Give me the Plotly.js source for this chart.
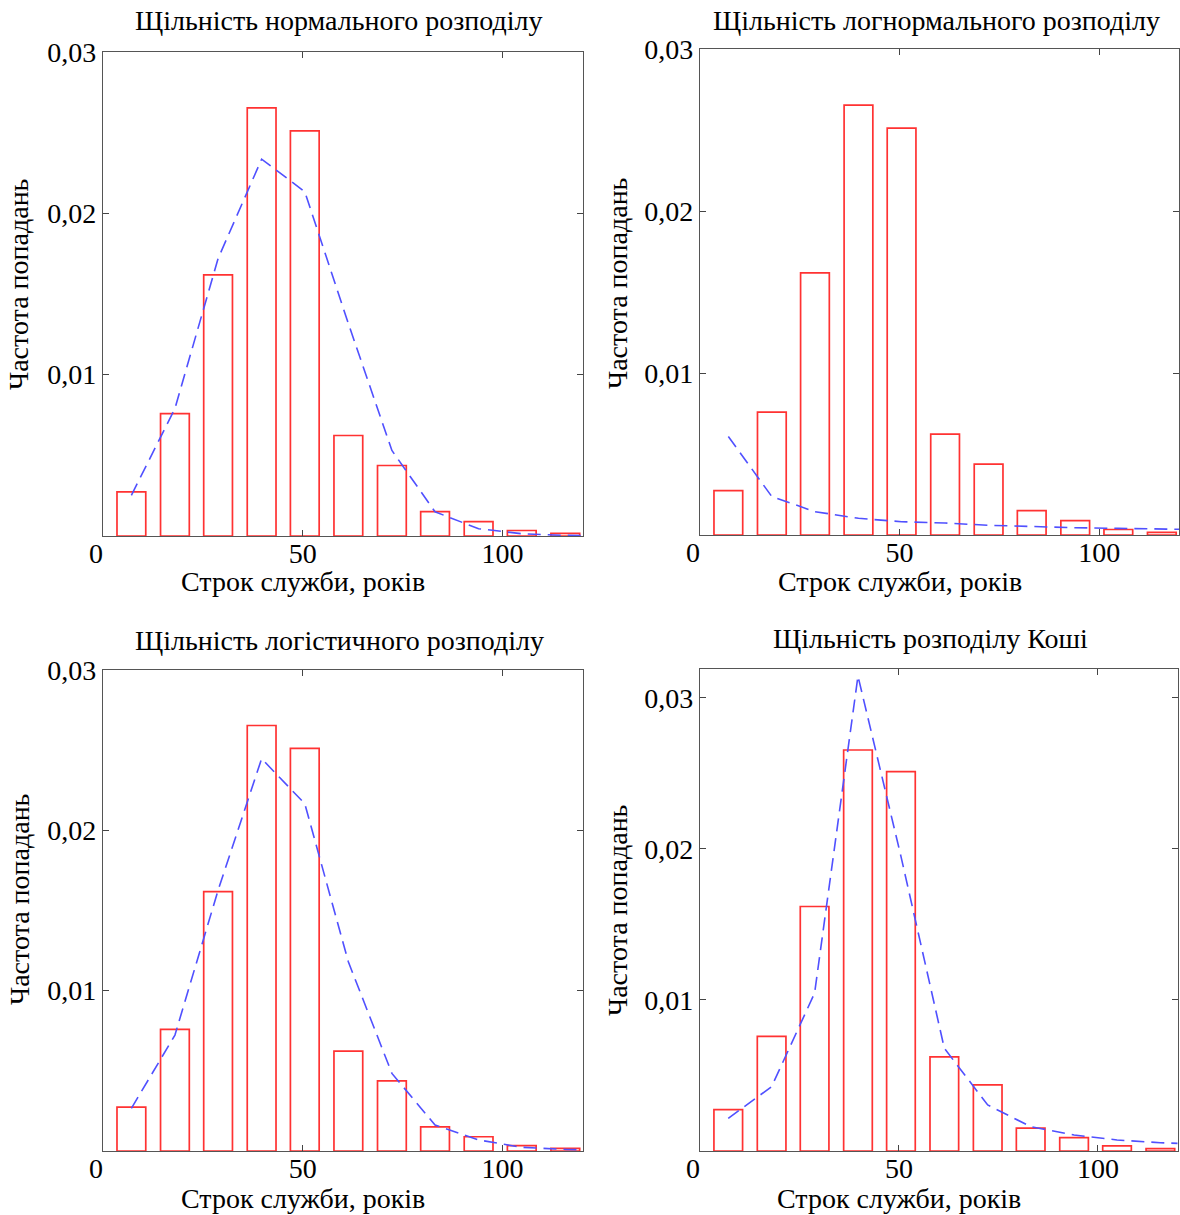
<!DOCTYPE html>
<html>
<head>
<meta charset="utf-8">
<script src="https://cdn.plot.ly/plotly-3.0.1.min.js"></script>
<style>html,body{margin:0;padding:0;background:#fff;}</style>
</head>
<body>
<div id="chart" style="width:1180px;height:1215px;"></div>
<script>
// Bin centres (years) and observed frequencies (same histogram in every panel)
const binCenters = [7.1, 18.0, 28.8, 39.7, 50.5, 61.4, 72.3, 83.1, 94.0, 104.8, 115.7];
const observedFreq = [0.00274, 0.00758, 0.01618, 0.02654, 0.02511, 0.00623, 0.00437, 0.00151, 0.00089, 0.00034, 0.00016];

// x positions of the fitted curves
const fitX = [7.1, 18.0, 28.8, 39.7, 50.5, 61.4, 72.3, 83.1, 94.0, 104.8, 115.7, 121];
// fitted densities
const normalFit = [0.00252, 0.0079, 0.0172, 0.02336, 0.02134, 0.01317, 0.0053, 0.0015, 0.00045, 0.00014, 0.00004, 0.00002];
const lognormalFit = [0.00608, 0.00237, 0.00144, 0.00103, 0.00082, 0.00074, 0.0006, 0.00052, 0.00045, 0.00041, 0.00037, 0.00035];
const logisticFit = [0.00266, 0.00723, 0.01626, 0.02447, 0.02166, 0.0118, 0.00484, 0.00162, 0.00069, 0.00023, 0.0001, 0.00007];
const cauchyFit = [0.00216, 0.00426, 0.01045, 0.03143, 0.0195, 0.0068, 0.00305, 0.00161, 0.00106, 0.00073, 0.00055, 0.0005];

const panelTitles = ["Щільність нормального розподілу", "Щільність логнормального розподілу",
                     "Щільність логістичного розподілу", "Щільність розподілу Коші"];
const xAxisTitle = "Строк служби, років";
const yAxisTitle = "Частота попадань";
const xTickVals = [0, 50, 100];
const xTickText = ["0\u00a0\u00a0", "50", "100"];
const yTickVals = [0.01, 0.02, 0.03];

const fits = [normalFit, lognormalFit, logisticFit, cauchyFit];
const yMax = [0.03, 0.03, 0.03, 0.0319];

const FONT = "Liberation Serif, Times New Roman, serif";
const FS = 28;
const W = 1180, H = 1215;
const boxes = [
  {l:103, r:582.5, t:52, b:536},
  {l:700, r:1179, t:49, b:535},
  {l:103, r:582.5, t:670, b:1151},
  {l:700, r:1177.5, t:669, b:1151}
];
const titleY = [20, 20, 640, 638];
const titleX = [338, 936, 339, 930];
const xTitleY = [582, 582, 1198, 1198];
const yTitlePos = [{x:19, y:285}, {x:617, y:284}, {x:19, y:900}, {x:617, y:911}];

const data = [];
const layout = {
  width: W, height: H,
  margin: {l:0, r:0, t:0, b:0},
  paper_bgcolor: "#fff", plot_bgcolor: "#fff",
  showlegend: false,
  separators: ",.",
  font: {family: FONT, size: FS, color: "#000"},
  annotations: []
};

fits.forEach((fit, i) => {
  const n = i + 1;
  const sfx = (n === 1 ? "" : String(n));
  data.push({
    type: "bar", x: binCenters, y: observedFreq, width: 7.2,
    xaxis: "x" + sfx, yaxis: "y" + sfx,
    marker: {color: "rgba(255,255,255,0)", line: {color: "rgb(255,50,50)", width: 1.7}},
    hoverinfo: "x+y"
  });
  data.push({
    type: "scatter", mode: "lines", x: fitX, y: fit,
    xaxis: "x" + sfx, yaxis: "y" + sfx,
    line: {color: "rgb(80,80,255)", width: 1.6, dash: "13px,7px"}
  });
  const bx = boxes[i];
  const axCommon = {
    showline: true, linecolor: "#555", linewidth: 1.2, mirror: "ticks",
    ticks: "inside", ticklen: 6, tickcolor: "#444", tickwidth: 1,
    showgrid: false, zeroline: false,
    tickfont: {family: FONT, size: FS, color: "#000"}
  };
  layout["xaxis" + sfx] = Object.assign({}, axCommon, {
    domain: [bx.l / W, bx.r / W], anchor: "y" + sfx,
    range: [0, 120], tickvals: xTickVals, ticktext: xTickText,
    ticklabelstandoff: -8
  });
  layout["yaxis" + sfx] = Object.assign({}, axCommon, {
    domain: [1 - bx.b / H, 1 - bx.t / H], anchor: "x" + sfx,
    range: [0, yMax[i]], tickvals: yTickVals, tickformat: ".2f"
  });
  // panel title
  layout.annotations.push({
    text: panelTitles[i], xref: "paper", yref: "paper",
    x: titleX[i] / W, y: 1 - titleY[i] / H, xanchor: "center", yanchor: "middle",
    showarrow: false, font: {family: FONT, size: FS, color: "#000"}
  });
  // x-axis title (centred under the tick 50, as in the original)
  layout.annotations.push({
    text: xAxisTitle, xref: "x" + sfx, yref: "paper",
    x: 50, y: 1 - xTitleY[i] / H, xanchor: "center", yanchor: "middle",
    showarrow: false, font: {family: FONT, size: FS, color: "#000"}
  });
  // y-axis title
  layout.annotations.push({
    text: yAxisTitle, xref: "paper", yref: "paper", textangle: -90,
    x: yTitlePos[i].x / W, y: 1 - yTitlePos[i].y / H, xanchor: "center", yanchor: "middle",
    showarrow: false, font: {family: FONT, size: FS, color: "#000"}
  });
});

Plotly.newPlot("chart", data, layout, {displayModeBar: false, staticPlot: true});
</script>
</body>
</html>
